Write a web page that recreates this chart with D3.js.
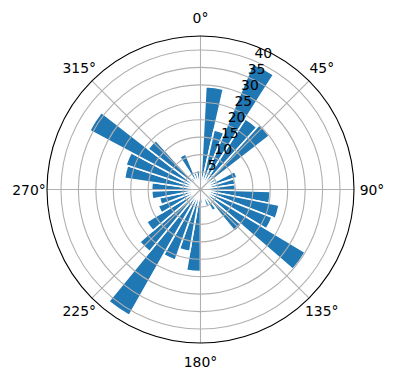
<!DOCTYPE html>
<html>
<head>
<meta charset="utf-8">
<script src="https://cdn.jsdelivr.net/npm/d3@7"></script>
<style>
  body { margin: 0; background: #fff; }
  svg { display: block; font-family: "DejaVu Sans", sans-serif; font-size: 13.9px; }
</style>
</head>
<body>
<div id="chart"></div>
<script>
// direction bins: left edge in degrees, clockwise from north
const binStart = [3.0, 12.8, 22.7, 32.5, 42.3, 52.2, 62.0, 71.8, 81.7, 91.5, 101.3, 111.2,
  121.0, 130.8, 140.7, 150.5, 160.3, 170.2, 180.0, 189.8, 199.7, 209.5, 219.3, 229.2,
  239.0, 248.8, 258.7, 268.5, 278.3, 288.2, 298.0, 307.8, 317.7, 327.5, 337.3, 347.2];
const counts = [29.5, 17.5, 39, 24, 25, 5, 11, 10, 10, 20, 23, 22,
  35, 15.5, 7, 5, 3, 4, 23.5, 18, 21.5, 41.5, 23, 18,
  13, 12, 14, 14, 22, 22.5, 36, 19, 4, 11, 5, 5.5];
const angleTicks = [0, 45, 90, 135, 180, 225, 270, 315];
const radialTicks = [5, 10, 15, 20, 25, 30, 35, 40];

const width = 396, height = 380;
const cx = 200.5, cy = 189.5, outerR = 153.5;
const rMax = 44;
const rad = d => d * Math.PI / 180;

const svg = d3.select('#chart').append('svg')
  .attr('width', width)
  .attr('height', height);

const g = svg.append('g').attr('transform', `translate(${cx},${cy})`);

const r = d3.scaleLinear().domain([0, rMax]).range([0, outerR]);
const theta = d3.scaleBand().domain(binStart).range([rad(3), rad(357)]);

// bars (white edges give the gaps)
const arc = d3.arc()
  .innerRadius(0)
  .outerRadius(d => r(d.v))
  .startAngle(d => theta(d.k))
  .endAngle(d => theta(d.k) + theta.bandwidth());

g.selectAll('path.bar')
  .data(binStart.map((k, i) => ({ k, v: counts[i] })))
  .join('path')
  .attr('class', 'bar')
  .attr('d', arc)
  .attr('fill', '#1f77b4')
  .attr('stroke', '#fff')
  .attr('stroke-width', 1.6)
  .attr('stroke-linejoin', 'miter');

// grid on top of bars, like matplotlib
g.selectAll('circle.ring')
  .data(radialTicks)
  .join('circle')
  .attr('class', 'ring')
  .attr('r', d => r(d))
  .attr('fill', 'none')
  .attr('stroke', '#b0b0b0')
  .attr('stroke-width', 1.1);

g.selectAll('line.spoke')
  .data(angleTicks)
  .join('line')
  .attr('class', 'spoke')
  .attr('x1', 0).attr('y1', 0)
  .attr('x2', d => outerR * Math.sin(rad(d)))
  .attr('y2', d => -outerR * Math.cos(rad(d)))
  .attr('stroke', '#b0b0b0')
  .attr('stroke-width', 1.1);

g.append('circle')
  .attr('r', outerR)
  .attr('fill', 'none')
  .attr('stroke', '#000')
  .attr('stroke-width', 1.1);

// angle labels
g.selectAll('text.theta')
  .data(angleTicks)
  .join('text')
  .attr('class', 'theta')
  .attr('x', d => (outerR + 18) * Math.sin(rad(d)))
  .attr('y', d => -(outerR + 18.5) * Math.cos(rad(d)))
  .attr('text-anchor', 'middle')
  .attr('dominant-baseline', 'central')
  .text(d => d + '°');

// radial labels along 22.5°
const labelAngle = rad(22.5);
g.selectAll('text.rlabel')
  .data(radialTicks)
  .join('text')
  .attr('class', 'rlabel')
  .attr('x', d => r(d) * Math.sin(labelAngle) + 0.5)
  .attr('y', d => -r(d) * Math.cos(labelAngle) - 3)
  .attr('text-anchor', 'start')
  .text(d => d);
</script>
</body>
</html>
